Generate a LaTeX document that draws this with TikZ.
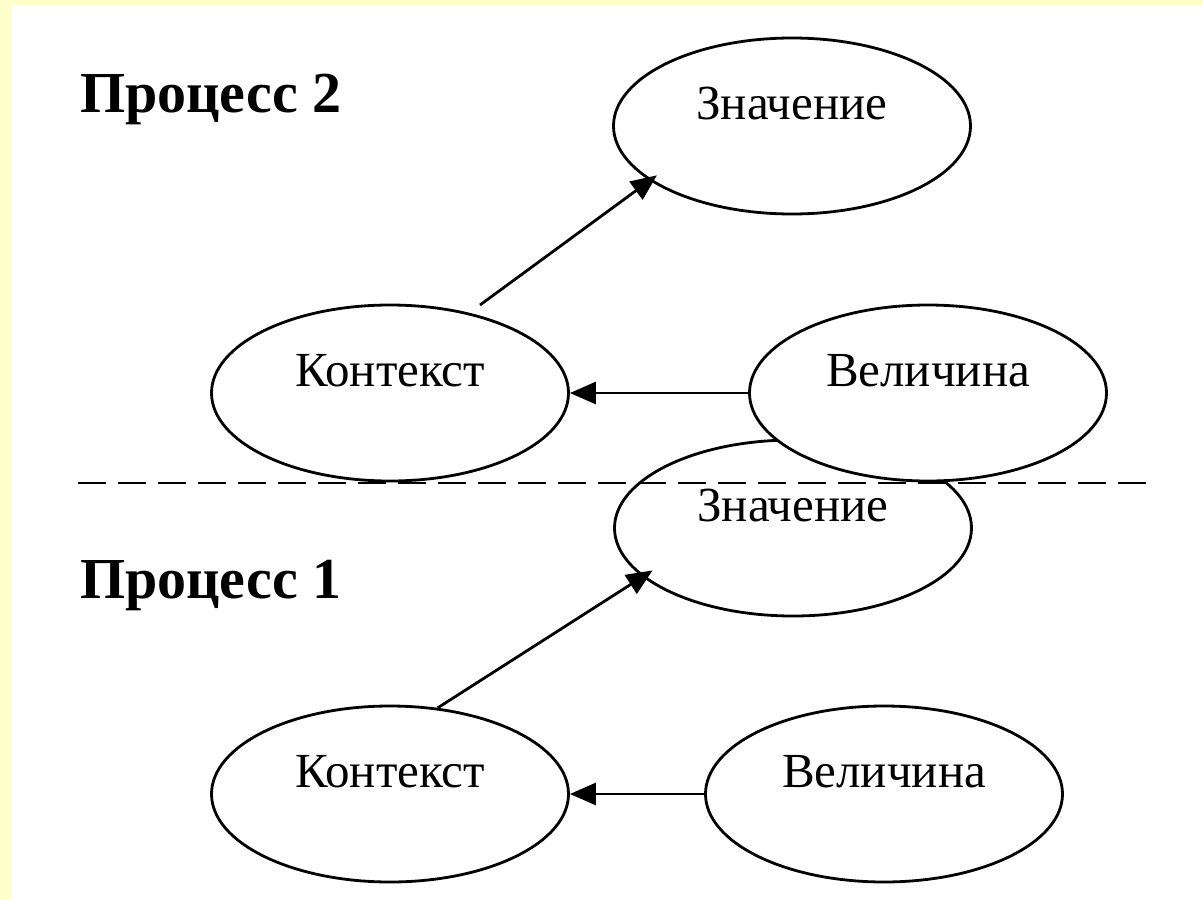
\documentclass[tikz,border=0pt]{standalone}
\usepackage{fontspec}
\setmainfont{Liberation Serif}
\usetikzlibrary{shapes.geometric,arrows.meta,calc}
\definecolor{bgyellow}{HTML}{FFFFCC}
\tikzset{
  oval/.style={ellipse, draw=black, line width=2.8pt, fill=white, minimum width=357pt, minimum height=176pt, inner sep=0pt},
  lbl/.style={anchor=base, font=\fontsize{49pt}{52pt}\selectfont, inner sep=0pt},
  head/.style={anchor=base west, font=\fontsize{58pt}{62pt}\selectfont\bfseries, inner sep=0pt},
  conn/.style={line width=2.8pt, -{Triangle[length=26pt,width=22pt]}},
  sep/.style={line width=2.8pt, dash pattern=on 28pt off 12pt}
}
\begin{document}
\begin{tikzpicture}[x=1pt,y=-1pt]
\useasboundingbox (0,0) rectangle (1203,900);
\fill[white] (0,0) rectangle (1203,900);
\fill[bgyellow] (0,0) rectangle (1203,6);
\fill[bgyellow] (0,0) rectangle (12,900);

% Process 1 (lower) value ellipse drawn first (partly hidden by upper Velichina)
\node[oval] (zn1) at (793,528) {};
\node[oval] (zn2) at (792,126) {};
\node[oval] (ctx2) at (390,393) {};
\node[oval] (vel2) at (928,393) {};
\node[oval] (ctx1) at (390,794) {};
\node[oval] (vel1) at (884,794) {};

\node[lbl] (tzn2) at ($(zn2.center)+(0,-7)$) {Значение};
\node[lbl] (tctx2) at ($(ctx2.center)+(0,-7)$) {Контекст};
\node[lbl] (tvel2) at ($(vel2.center)+(0,-7)$) {Величина};
\node[lbl] (tzn1) at ($(zn1.center)+(0,-7)$) {Значение};
\node[lbl] (tctx1) at ($(ctx1.center)+(0,-7)$) {Контекст};
\node[lbl] (tvel1) at ($(vel1.center)+(0,-7)$) {Величина};

\node[head] (h2) at (80,112) {Процесс 2};
\node[head] (h1) at (80,598) {Процесс 1};

\coordinate (s2) at (480,305);
\draw[conn, shorten >=-9pt] (s2) -- (zn2.201);
\draw[conn] (vel2) -- (ctx2);
\draw[conn, shorten >=-12pt] (ctx1.61.6) -- (zn1.198.8);
\draw[conn] (vel1) -- (ctx1);

\coordinate (dl) at (78,483);
\coordinate (dr) at (1154,483);
\draw[sep] (dl) -- (dr);
\end{tikzpicture}
\end{document}
